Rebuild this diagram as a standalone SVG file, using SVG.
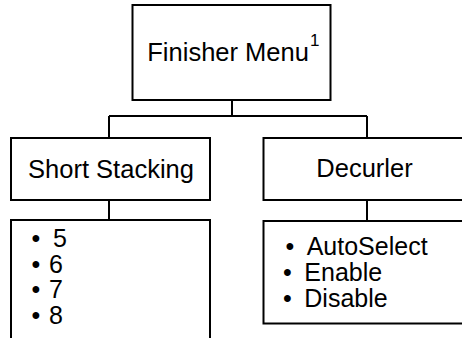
<svg xmlns="http://www.w3.org/2000/svg" width="462" height="338" viewBox="0 0 462 338">
<style>
.box{fill:#fff;stroke:#000;stroke-width:2}
.ln{fill:none;stroke:#000;stroke-width:2}
text{font-family:"Liberation Sans",Arial,sans-serif;fill:#000}
.h{font-size:25.5px}
.o{font-size:25px}
</style>
<rect width="462" height="338" fill="#fff"/>
<g id="connectors">
<path class="ln" d="M232,100 V116 M109,116 H367 M109,116 V138 M367,116 V138 M109,200 V220 M367,200 V221"/>
</g>
<g id="finisher-menu">
<rect class="box" x="132.5" y="5" width="198" height="95"/>
<text class="h" x="147.3" y="61">Finisher Menu<tspan font-size="17" dx="1" dy="-15">1</tspan></text>
</g>
<g id="short-stacking">
<rect class="box" x="11" y="138" width="199" height="62"/>
<text class="h" x="111" y="177.5" text-anchor="middle">Short Stacking</text>
</g>
<g id="decurler">
<rect class="box" x="263.5" y="138" width="201" height="62"/>
<text class="h" x="364.5" y="177" text-anchor="middle">Decurler</text>
</g>
<g id="short-stacking-options">
<rect class="box" x="11" y="220" width="199" height="130"/>
<text class="o" x="31.5" y="247">•<tspan x="53">5</tspan></text>
<text class="o" x="31.5" y="272.5">•<tspan x="49">6</tspan></text>
<text class="o" x="31.5" y="298">•<tspan x="49">7</tspan></text>
<text class="o" x="31.5" y="323.5">•<tspan x="49">8</tspan></text>
</g>
<g id="decurler-options">
<rect class="box" x="263.5" y="221" width="201" height="102.5"/>
<text class="o" x="285.5" y="255">•<tspan x="306.7">AutoSelect</tspan></text>
<text class="o" x="283" y="281">•<tspan x="304.3">Enable</tspan></text>
<text class="o" x="283" y="306.5">•<tspan x="304.3">Disable</tspan></text>
</g>
</svg>
